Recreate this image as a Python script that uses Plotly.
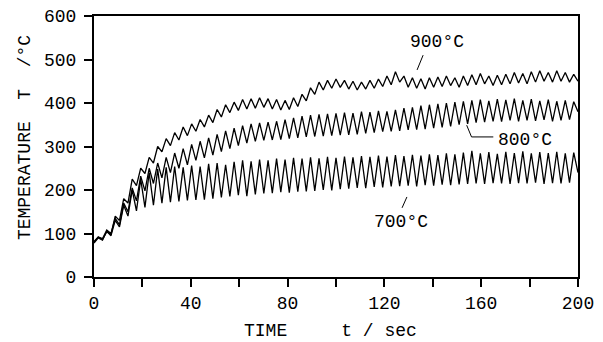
import numpy as np
import plotly.graph_objects as go

temp_700 = [78, 90, 85, 105, 95, 130, 115, 165, 140, 200, 152, 225, 160, 240, 165, 248, 170, 252, 172, 254,
            174, 252, 176, 256, 177, 254, 178, 260, 180, 262, 183, 258, 185, 265, 188, 268, 186, 266, 190, 270,
            192, 268, 193, 272, 195, 270, 194, 274, 196, 272, 197, 275, 198, 273, 200, 276, 199, 274, 202, 277,
            203, 275, 205, 278, 204, 276, 207, 279, 206, 277, 208, 280, 209, 278, 210, 281, 208, 279, 211, 282,
            210, 280, 212, 284, 211, 282, 213, 286, 214, 290, 215, 284, 214, 287, 216, 283, 215, 288, 214, 285,
            216, 289, 215, 284, 217, 287, 214, 285, 216, 288, 215, 284, 217, 286, 240]
temp_800 = [82, 92, 88, 108, 100, 135, 120, 170, 150, 205, 175, 232, 198, 250, 215, 262, 228, 275, 240, 285,
            250, 295, 258, 305, 268, 312, 274, 320, 280, 328, 288, 336, 295, 342, 302, 348, 308, 352, 312, 354,
            314, 356, 315, 358, 316, 362, 318, 366, 320, 370, 322, 372, 323, 374, 324, 375, 325, 376, 326, 378,
            327, 377, 328, 380, 330, 379, 332, 382, 334, 381, 335, 384, 336, 388, 338, 390, 339, 394, 340, 396,
            342, 398, 344, 400, 346, 402, 350, 404, 352, 406, 355, 408, 356, 405, 358, 409, 357, 407, 360, 410,
            358, 406, 360, 409, 359, 405, 361, 408, 358, 404, 360, 406, 362, 403, 380]
temp_900 = [80, 92, 86, 104, 98, 140, 130, 180, 170, 225, 210, 250, 238, 275, 262, 300, 288, 318, 302, 332,
            315, 345, 325, 352, 335, 362, 345, 372, 355, 385, 368, 396, 378, 402, 383, 408, 386, 410, 388, 412,
            390, 410, 386, 408, 384, 406, 385, 412, 392, 420, 405, 435, 420, 448, 430, 452, 434, 455, 436, 452,
            432, 450, 430, 448, 432, 452, 434, 455, 438, 462, 442, 472, 448, 462, 436, 458, 434, 456, 432, 458,
            436, 460, 438, 462, 440, 458, 436, 462, 440, 465, 442, 468, 444, 462, 440, 464, 442, 466, 444, 470,
            446, 468, 444, 472, 448, 474, 450, 470, 448, 474, 450, 470, 448, 466, 450]

t_start, t_end = 0, 200
x_tick_vals = [0, 20, 40, 60, 80, 100, 120, 140, 160, 180, 200]
x_tick_text = ["0", "", "40", "", "80", "", "120", "", "160", "", "200"]
y_tick_vals = [0, 100, 200, 300, 400, 500, 600]
y_tick_text = ["0", "100", "200", "300", "400", "500", "600"]
series_labels = ["700°C", "800°C", "900°C"]

FONT = "Liberation Mono"
fig = go.Figure()
for vals, name in zip([temp_700, temp_800, temp_900], series_labels):
    t = np.linspace(t_start, t_end, len(vals))
    fig.add_trace(go.Scatter(x=t, y=vals, mode="lines", name=name,
                             line=dict(color="black", width=1.3), showlegend=False))

axis_common = dict(showgrid=False, zeroline=False, showline=True, linecolor="black", linewidth=2,
                   mirror=True, ticks="outside", ticklen=8, tickwidth=1.5, tickcolor="black",
                   automargin=False, ticklabeloverflow="allow",
                   tickfont=dict(family=FONT, size=18, color="black"))
fig.update_xaxes(range=[0, 200], tickvals=x_tick_vals, ticktext=x_tick_text, **axis_common)
fig.update_yaxes(range=[0, 600], tickvals=y_tick_vals, ticktext=y_tick_text, ticklabelstandoff=4, **axis_common)

ann_font = dict(family=FONT, size=18, color="black")
annotations = [
    dict(x=141.7, y=540, text="900°C"),
    dict(x=178, y=315, text="800°C"),
    dict(x=127, y=126, text="700°C"),
]
for a in annotations:
    a.update(xref="x", yref="y", showarrow=False, font=ann_font)
annotations.append(dict(xref="paper", yref="paper", x=-0.1426, y=0.536, xanchor="center", yanchor="middle",
                        text="TEMPERATURE\u00a0\u00a0T\u00a0\u00a0/°C",
                        textangle=-90, showarrow=False, font=dict(family=FONT, size=18, color="black")))
annotations.append(dict(xref="paper", yref="paper", x=0.488, y=-0.207, xanchor="center", yanchor="middle",
                        text="TIME\u00a0\u00a0\u00a0\u00a0\u00a0t\u00a0/\u00a0sec",
                        showarrow=False, font=dict(family=FONT, size=18, color="black")))

shapes = [
    dict(type="line", xref="x", yref="y", x0=136, y0=510, x1=133.5, y1=476, line=dict(color="black", width=1)),
    dict(type="path", xref="x", yref="y", path="M 154 349 L 156 322 L 165 322", line=dict(color="black", width=1)),
    dict(type="line", xref="x", yref="y", x0=129.3, y0=184, x1=127.3, y1=159, line=dict(color="black", width=1)),
]

# the page body adds an 8 px offset, so the figure is sized to fit the 603x342 window
fig.update_layout(width=595, height=334, margin=dict(l=86, r=25, t=8, b=65),
                  paper_bgcolor="white", plot_bgcolor="white",
                  annotations=annotations, shapes=shapes)
fig.write_html("out.html")
